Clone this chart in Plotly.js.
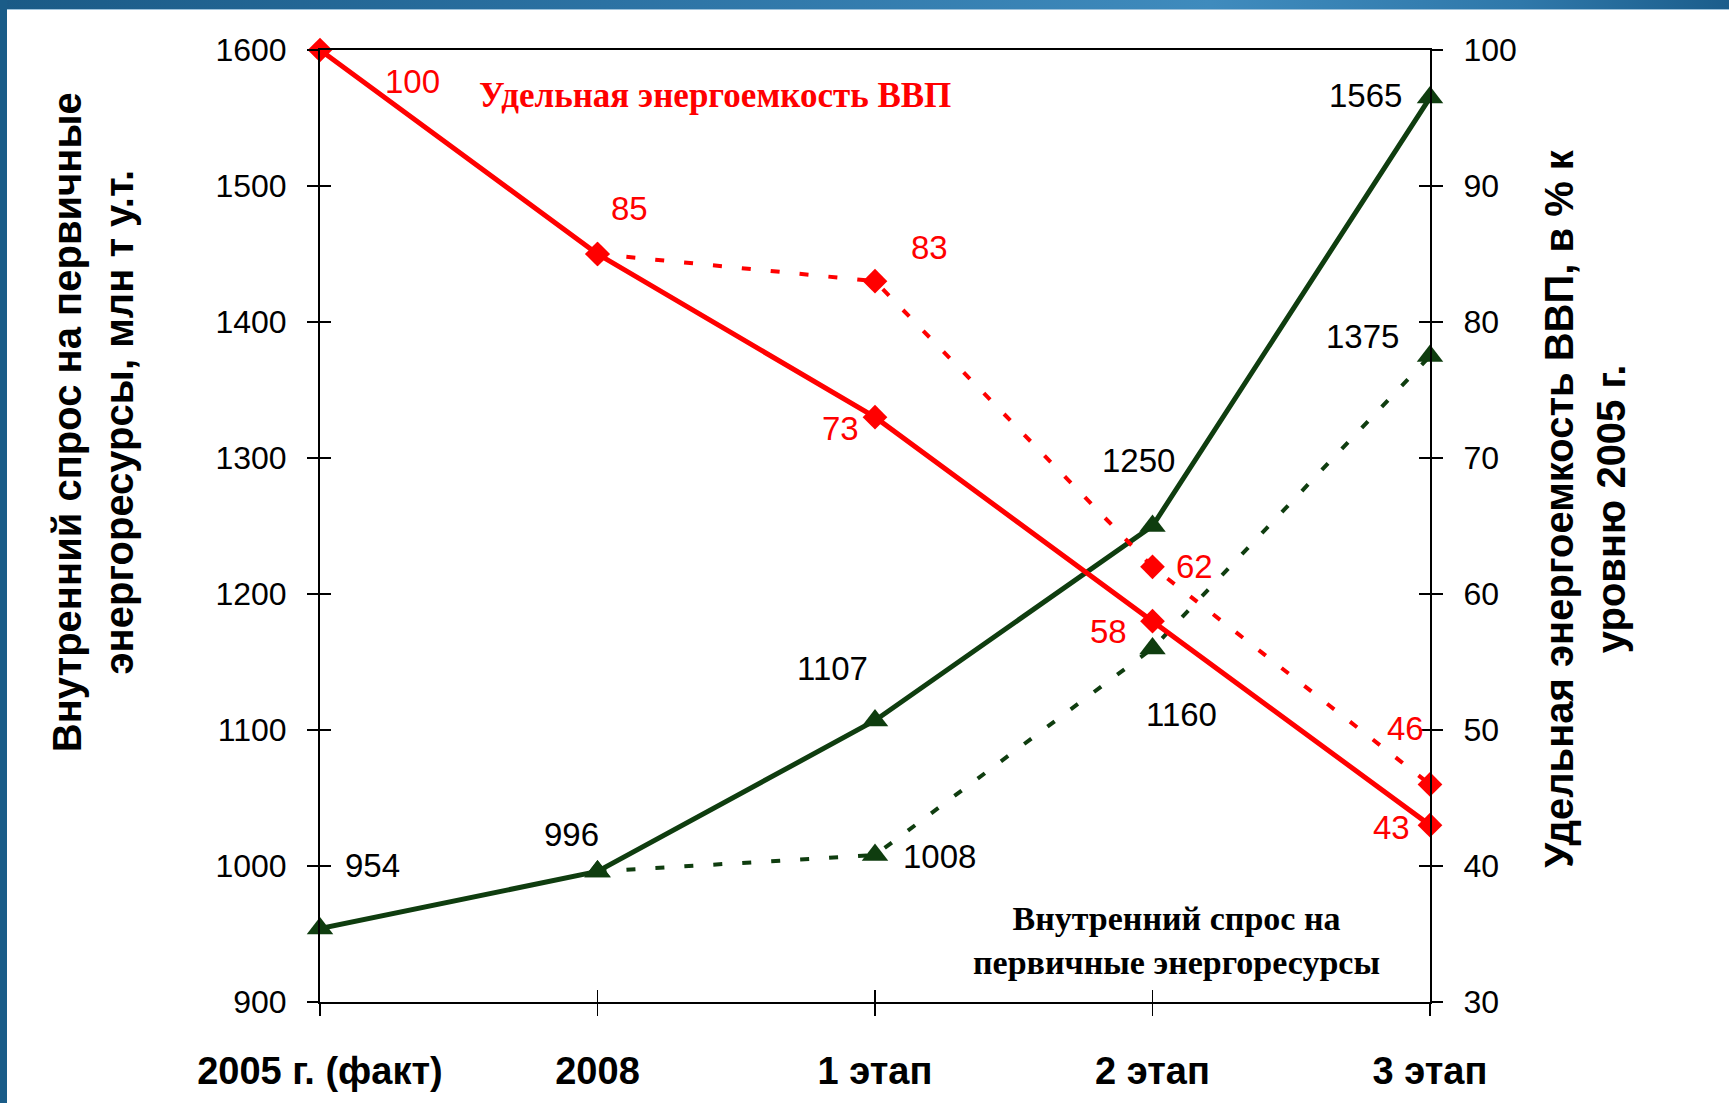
<!DOCTYPE html>
<html>
<head>
<meta charset="utf-8">
<script src="https://cdn.plot.ly/plotly-3.0.1.min.js"></script>
<style>
  html, body { margin: 0; padding: 0; background: #ffffff; }
  #wrap { position: relative; width: 1729px; height: 1103px; background: #ffffff; overflow: hidden; }
  #topband { position: absolute; left: 0; top: 0; width: 1729px; height: 9px;
    background: linear-gradient(to right, #1a5a86 0%, #2c72a3 35%, #3f8bbd 70%, #2f78aa 88%, #1b5d8b 100%); }
  #topline { position: absolute; left: 0; top: 9px; width: 1729px; height: 1px; background: #9fc3dc; }
  #leftband { position: absolute; left: 0; top: 0; width: 7px; height: 1103px; background: #1a5c88; }
  #chart { position: absolute; left: 0; top: 0; width: 1729px; height: 1103px; }
</style>
</head>
<body>
<div id="wrap">
  <div id="topband"></div>
  <div id="topline"></div>
  <div id="leftband"></div>
  <div id="chart"></div>
</div>
<script>
// ---- data ----
const categories = ['2005 г. (факт)', '2008', '1 этап', '2 этап', '3 этап'];
const demandBase = [954, 996, 1107, 1250, 1565];          // млн т у.т., solid
const demandAlt = [null, 996, 1008, 1160, 1375];           // млн т у.т., dashed
const intensityBase = [100, 85, 73, 58, 43];               // % к 2005, solid
const intensityAlt = [null, 85, 83, 62, 46];               // % к 2005, dashed

const leftAxisTitle = 'Внутренний спрос на первичные<br>энергоресурсы, млн т у.т.';
const rightAxisTitle = 'Удельная энергоемкость ВВП, в % к<br>уровню 2005 г.';
const intensityCaption = 'Удельная энергоемкость ВВП';
const demandCaption = 'Внутренний спрос на<br>первичные энергоресурсы';

// ---- styles ----
const RED = '#ff0000';
const GREEN = '#0f3d0f';
const SANS = 'Liberation Sans, Arial, sans-serif';
const SERIF = 'Liberation Serif, Times New Roman, serif';

// label offsets (pixels: right, up) per point
const demandBaseShift = [[52, 63], [-26, 37], [-43, 52], [-14, 66], [-65, 2]];
const demandAltShift = [null, null, [64, -1], [29, -66], [-68, 20]];
const intensityBaseShift = [[92, -31], [32, 46], [-35, -11], [-44, -10], [-39, -2]];
const intensityAltShift = [null, null, [54, 34], [42, 0], [-25, 56]];

function labels(values, shifts, yref, color) {
  const out = [];
  values.forEach((v, i) => {
    if (v === null || !shifts[i]) return;
    out.push({
      // category axis: position given by the category index
      x: categories.indexOf(categories[i]), y: v, xref: 'x', yref: yref,
      text: String(v), showarrow: false,
      xshift: shifts[i][0], yshift: shifts[i][1],
      font: { family: SANS, size: 33, color: color }
    });
  });
  return out;
}

const traces = [
  { x: categories, y: demandAlt, xaxis: 'x', yaxis: 'y', mode: 'lines+markers',
    line: { color: GREEN, width: 4, dash: '9px,20px' },
    marker: { symbol: 'triangle-up', size: 23, color: GREEN },
    cliponaxis: false, hoverinfo: 'skip', showlegend: false },
  { x: categories, y: demandBase, xaxis: 'x', yaxis: 'y', mode: 'lines+markers',
    line: { color: GREEN, width: 5 },
    marker: { symbol: 'triangle-up', size: 23, color: GREEN },
    cliponaxis: false, hoverinfo: 'skip', showlegend: false },
  { x: categories, y: intensityAlt, xaxis: 'x', yaxis: 'y2', mode: 'lines+markers',
    line: { color: RED, width: 4, dash: '9px,20px' },
    marker: { symbol: 'diamond', size: 19, color: RED },
    cliponaxis: false, hoverinfo: 'skip', showlegend: false },
  { x: categories, y: intensityBase, xaxis: 'x', yaxis: 'y2', mode: 'lines+markers',
    line: { color: RED, width: 5 },
    marker: { symbol: 'diamond', size: 19, color: RED },
    cliponaxis: false, hoverinfo: 'skip', showlegend: false },
  // invisible helpers so the inner tick marks (cross ticks) are drawn
  { x: categories, y: demandBase, xaxis: 'x2', yaxis: 'y3', mode: 'lines',
    line: { width: 0 }, opacity: 0, hoverinfo: 'skip', showlegend: false },
  { x: categories, y: intensityBase, xaxis: 'x2', yaxis: 'y4', mode: 'lines',
    line: { width: 0 }, opacity: 0, hoverinfo: 'skip', showlegend: false }
];

const axisCommon = {
  showgrid: false, zeroline: false, fixedrange: true,
  tickcolor: '#000', tickwidth: 1.5, linecolor: '#000'
};

const layout = {
  width: 1729, height: 1103,
  margin: { l: 320, r: 299, t: 50, b: 101, pad: 0 },
  paper_bgcolor: 'rgba(0,0,0,0)', plot_bgcolor: 'rgba(0,0,0,0)',
  showlegend: false,
  xaxis: Object.assign({}, axisCommon, {
    type: 'category', range: [0, 4], showline: true, linewidth: 2, mirror: true,
    ticks: 'outside', ticklen: 12, ticklabelstandoff: 22,
    tickfont: { family: SANS, size: 38, color: '#000', weight: 'bold' }
  }),
  yaxis: Object.assign({}, axisCommon, {
    range: [900, 1600], dtick: 100, tick0: 900, showline: true, linewidth: 2,
    ticks: 'outside', ticklen: 11, ticklabelstandoff: 14,
    tickfont: { family: SANS, size: 32, color: '#000' }
  }),
  yaxis2: Object.assign({}, axisCommon, {
    overlaying: 'y', side: 'right', anchor: 'x',
    range: [30, 100], dtick: 10, tick0: 30, showline: true, linewidth: 2,
    ticks: 'outside', ticklen: 11, ticklabelstandoff: 14,
    tickfont: { family: SANS, size: 32, color: '#000' }
  }),
  xaxis2: Object.assign({}, axisCommon, {
    overlaying: 'x', anchor: 'y', side: 'bottom', type: 'category', range: [0, 4],
    showline: false, ticks: 'inside', ticklen: 12, showticklabels: false
  }),
  yaxis3: Object.assign({}, axisCommon, {
    overlaying: 'y', anchor: 'x', side: 'left', range: [900, 1600], dtick: 100, tick0: 900,
    showline: false, ticks: 'inside', ticklen: 11, showticklabels: false
  }),
  yaxis4: Object.assign({}, axisCommon, {
    overlaying: 'y', anchor: 'x', side: 'right', range: [30, 100], dtick: 10, tick0: 30,
    showline: false, ticks: 'inside', ticklen: 11, showticklabels: false
  }),
  annotations: [].concat(
    labels(demandBase, demandBaseShift, 'y', '#000'),
    labels(demandAlt, demandAltShift, 'y', '#000'),
    labels(intensityBase, intensityBaseShift, 'y2', RED),
    labels(intensityAlt, intensityAltShift, 'y2', RED),
    [
      { xref: 'paper', yref: 'paper', x: -0.2045, y: 0.609, text: leftAxisTitle,
        textangle: -90, showarrow: false, xanchor: 'center', yanchor: 'middle',
        font: { family: SANS, size: 40, color: '#000', weight: 'bold' } },
      { xref: 'paper', yref: 'paper', x: 1.1396, y: 0.519, text: rightAxisTitle,
        textangle: -90, showarrow: false, xanchor: 'center', yanchor: 'middle',
        font: { family: SANS, size: 40, color: '#000', weight: 'bold' } },
      { xref: 'paper', yref: 'paper', x: 0.356, y: 0.9517, text: intensityCaption,
        showarrow: false, xanchor: 'center', yanchor: 'middle',
        font: { family: SERIF, size: 35, color: RED, weight: 'bold' } },
      { xref: 'paper', yref: 'paper', x: 0.772, y: 0.065, text: demandCaption,
        showarrow: false, xanchor: 'center', yanchor: 'middle',
        font: { family: SERIF, size: 34, color: '#000', weight: 'bold' } }
    ]
  )
};

Plotly.newPlot('chart', traces, layout, { displayModeBar: false, staticPlot: true });
</script>
</body>
</html>
